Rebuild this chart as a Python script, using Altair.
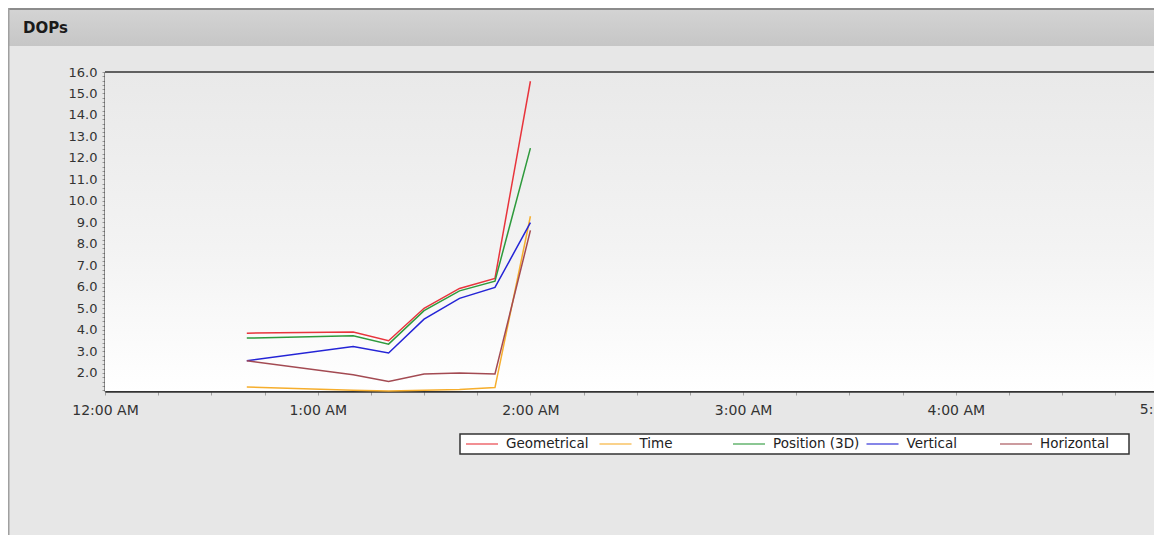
import altair as alt
import pandas as pd

# ---- data ----
times = ["2020-01-01T00:40:00", "2020-01-01T01:10:00", "2020-01-01T01:20:00",
         "2020-01-01T01:30:00", "2020-01-01T01:40:00", "2020-01-01T01:50:00",
         "2020-01-01T02:00:00"]
geometrical = [3.85, 3.90, 3.50, 5.01, 5.93, 6.40, 15.57]
time_dop = [1.35, 1.20, 1.16, 1.20, 1.23, 1.32, 9.29]
position_3d = [3.62, 3.73, 3.34, 4.90, 5.82, 6.27, 12.46]
vertical = [2.57, 3.23, 2.93, 4.50, 5.47, 5.98, 8.99]
horizontal = [2.57, 1.92, 1.60, 1.95, 2.00, 1.95, 8.63]

series_names = ["Geometrical", "Time", "Position (3D)", "Vertical", "Horizontal"]
series_colors = ["#e8343c", "#f6ae2d", "#2e9a3c", "#2424d6", "#a34a52"]
series_values = [geometrical, time_dop, position_3d, vertical, horizontal]

rows = []
for name, vals in zip(series_names, series_values):
    for t, v in zip(times, vals):
        rows.append({"time": t, "value": v, "series": name})
df = pd.DataFrame(rows)

# ---- layout ----
W, H = 1049, 319
PAD_L, PAD_T, PAD_B = 97, 64, 144
FONT = "DejaVu Sans"
LEG_X, LEG_Y, LEG_W, LEG_H = 355, 362, 669, 20

x_ticks = [alt.DateTime(year=2020, month=1, date=1, hours=h, minutes=m)
           for h in range(0, 5) for m in (0, 15, 30, 45)]
y_ticks = [round(1.2 + 0.2 * i, 1) for i in range(75)]

x_scale = alt.Scale(domain=[alt.DateTime(year=2020, month=1, date=1, hours=0),
                            alt.DateTime(year=2020, month=1, date=1, hours=4,
                                         minutes=55, seconds=54)])
y_scale = alt.Scale(domain=[1.16, 16.0], nice=False, zero=False)

one = alt.Data(values=[{"a": 1}])

# panel header
header = alt.Chart(one).mark_rect(
    color=alt.LinearGradient(gradient="linear", x1=0, x2=0, y1=0, y2=1,
                             stops=[alt.GradientStop(color="#d4d4d4", offset=0),
                                    alt.GradientStop(color="#c6c6c6", offset=1)])
).encode(x=alt.value(-PAD_L), x2=alt.value(W), y=alt.value(-PAD_T), y2=alt.value(-26))

top_border = alt.Chart(one).mark_rule(color="#8c8c8c", strokeWidth=2).encode(
    x=alt.value(-PAD_L), x2=alt.value(W), y=alt.value(-PAD_T + 1))
left_border = alt.Chart(one).mark_rule(color="#a0a0a0", strokeWidth=1.5).encode(
    x=alt.value(-PAD_L + 0.75), y=alt.value(-PAD_T), y2=alt.value(H + PAD_B))

title = alt.Chart(alt.Data(values=[{"label": "DOPs"}])).mark_text(
    align="left", baseline="middle", font=FONT, fontSize=15, fontWeight="bold",
    color="#1a1a1a"
).encode(text="label:N", x=alt.value(-82), y=alt.value(-44))

# plot background gradient
plot_bg = alt.Chart(one).mark_rect(
    color=alt.LinearGradient(gradient="linear", x1=0, x2=0, y1=0, y2=1,
                             stops=[alt.GradientStop(color="#e9e9e9", offset=0),
                                    alt.GradientStop(color="#f3f3f3", offset=0.55),
                                    alt.GradientStop(color="#ffffff", offset=1)])
).encode(x=alt.value(0), x2=alt.value(W), y=alt.value(0), y2=alt.value(H))

plot_top = alt.Chart(one).mark_rule(color="#333333", strokeWidth=1.5).encode(
    x=alt.value(0), x2=alt.value(W), y=alt.value(0))

# legend frame
legend_box = alt.Chart(one).mark_rect(fill="#ffffff", stroke="#333333", strokeWidth=1.5).encode(
    x=alt.value(LEG_X), x2=alt.value(LEG_X + LEG_W),
    y=alt.value(LEG_Y), y2=alt.value(LEG_Y + LEG_H))

lines = alt.Chart(df).mark_line(strokeWidth=1.5).encode(
    x=alt.X("time:T", scale=x_scale, title=None,
            axis=alt.Axis(values=x_ticks, grid=True, gridDash=[3, 2],
                          gridColor="#9a9a9a",
                          gridOpacity={"condition": {"test": "minutes(datum.value) == 0",
                                                     "value": 1}, "value": 0},
                          labelExpr="minutes(datum.value) == 0 ? timeFormat(datum.value, '%-I:%M %p') : ''",
                          labelFlush=False, labelOverlap=False, labelBound=False,
                          labelFont=FONT, labelFontSize=14, labelColor="#333333",
                          labelPadding=8, tickSize=4, tickColor="#a0a0a0",
                          domainColor="#333333", domainWidth=2.5)),
    y=alt.Y("value:Q", scale=y_scale, title=None,
            axis=alt.Axis(values=y_ticks, grid=True, gridDash=[3, 2],
                          gridColor="#a8a8a8",
                          gridOpacity={"condition": {"test": "abs(datum.value - round(datum.value)) < 0.001 && datum.value < 15.5",
                                                     "value": 1}, "value": 0},
                          labelExpr="abs(datum.value - round(datum.value)) < 0.001 ? format(datum.value, '.1f') : ''",
                          labelOverlap=False, labelFlush=False, labelBound=False,
                          labelFont=FONT, labelFontSize=13, labelColor="#333333",
                          labelPadding=5, tickSize=3, tickColor="#9a9a9a",
                          domainColor="#333333", domainWidth=2)),
    color=alt.Color("series:N",
                    scale=alt.Scale(domain=series_names, range=series_colors),
                    sort=series_names,
                    legend=alt.Legend(title=None, orient="none", legendX=LEG_X, legendY=LEG_Y,
                                      direction="horizontal", columns=5, gridAlign="all",
                                      symbolType="stroke", symbolSize=1024, clipHeight=14,
                                      symbolStrokeWidth=2, symbolOpacity=0.55,
                                      symbolOffset=2, labelOffset=7, columnPadding=3.5,
                                      labelFont=FONT, labelFontSize=13.5,
                                      labelColor="#222222", padding=3)),
    order=alt.Order("time:T")
)

five_label = alt.Chart(alt.Data(values=[{"t": "2020-01-01T05:00:00", "label": "5:00 AM"}])).mark_text(
    align="center", baseline="top", font=FONT, fontSize=14, color="#333333"
).encode(x=alt.X("t:T", scale=x_scale), y=alt.value(H + 12), text="label:N")

chart = alt.layer(
    header, top_border, left_border, title, plot_bg, plot_top, legend_box, lines, five_label
).properties(
    width=W, height=H,
    background="#e7e7e7",
    padding={"left": PAD_L, "top": PAD_T, "right": 0, "bottom": PAD_B},
    autosize=alt.AutoSizeParams(type="none"),
).configure_view(stroke=None)

chart.save("out.html", embed_options={"renderer": "svg", "actions": False})
